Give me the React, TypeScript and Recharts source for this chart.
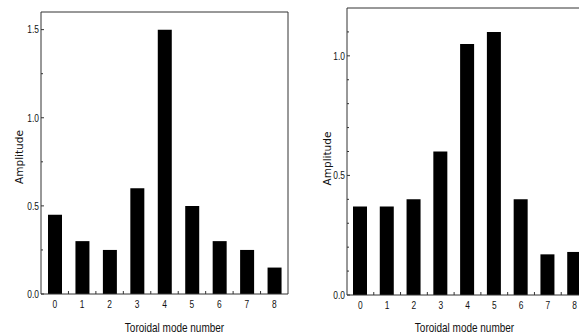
import { BarChart, Bar, XAxis, YAxis, ReferenceLine } from 'recharts'

// toroidal mode numbers and amplitudes
const modes = [0, 1, 2, 3, 4, 5, 6, 7, 8]
const leftAmplitudes = [0.45, 0.3, 0.25, 0.6, 1.5, 0.5, 0.3, 0.25, 0.15]
const rightAmplitudes = [0.37, 0.37, 0.4, 0.6, 1.05, 1.1, 0.4, 0.17, 0.18]

// x ticks: labels on the modes, small marks between them
const boundaries = [0.5, 1.5, 2.5, 3.5, 4.5, 5.5, 6.5, 7.5]
const leftYTicks = [0, 0.25, 0.5, 0.75, 1, 1.25, 1.5]
const rightYTicks = [0, 0.1, 0.2, 0.3, 0.4, 0.5, 0.6, 0.7, 0.8, 0.9, 1, 1.1]

const leftData = modes.map((m, i) => ({ mode: m, amp: leftAmplitudes[i] }))
const rightData = modes.map((m, i) => ({ mode: m, amp: rightAmplitudes[i] }))

const AXIS = '#333'
const SANS = '"Liberation Sans", Arial, sans-serif'

// no narrow font installed, so squeeze Liberation Sans horizontally
function NarrowText({
  x,
  y,
  size,
  anchor,
  dy,
  children,
}: {
  x: number
  y: number
  size: number
  anchor: 'start' | 'middle' | 'end'
  dy?: string
  children: any
}) {
  return (
    <g transform={`translate(${x},${y}) scale(0.8,1)`}>
      <text x={0} y={0} dy={dy} textAnchor={anchor} fontSize={size} fontFamily={SANS} fill="#111">
        {children}
      </text>
    </g>
  )
}

const XTick = (props: any) => {
  const { x, y, payload } = props
  const v = payload.value
  if (!Number.isInteger(v)) {
    return <line x1={x} x2={x} y1={y} y2={y - 3} stroke={AXIS} />
  }
  return (
    <NarrowText x={x} y={y + 14} size={10.5} anchor="middle">
      {v}
    </NarrowText>
  )
}

const YTick = (props: any) => {
  const { x, y, payload } = props
  const v = payload.value
  const major = Math.abs(v * 2 - Math.round(v * 2)) < 1e-6
  if (!major) {
    return <line x1={x} x2={x + 2} y1={y} y2={y} stroke={AXIS} />
  }
  return (
    <g>
      <line x1={x} x2={x + 3} y1={y} y2={y} stroke={AXIS} />
      <NarrowText x={x - 2} y={y} size={10.5} anchor="end" dy="0.36em">
        {v.toFixed(1)}
      </NarrowText>
    </g>
  )
}

const xLabel = (dx: number) => (props: any) => {
  const vb = props.viewBox
  return (
    <NarrowText x={vb.x + vb.width / 2 + dx} y={vb.y + vb.height - 3.5} size={12.5} anchor="middle">
      Toroidal mode number
    </NarrowText>
  )
}

const yLabel = (cx: number, dy: number) => (props: any) => {
  const vb = props.viewBox
  const cy = vb.y + vb.height / 2 + dy
  return (
    <text
      x={cx}
      y={cy}
      transform={`rotate(-90, ${cx}, ${cy})`}
      textAnchor="middle"
      dominantBaseline="central"
      fontSize={10.5}
      fontFamily='"DejaVu Sans", sans-serif'
      fill="#111"
    >
      Amplitude
    </text>
  )
}

function Panel({
  data,
  yMax,
  yTicks,
  width,
  margin,
  yAxisWidth,
  xAxisHeight,
  labelDx,
  ampX,
  ampDy,
}: {
  data: { mode: number; amp: number }[]
  yMax: number
  yTicks: number[]
  width: number
  margin: { top: number; right: number; bottom: number; left: number }
  yAxisWidth: number
  xAxisHeight: number
  labelDx: number
  ampX: number
  ampDy: number
}) {
  return (
    <BarChart width={width} height={335} data={data} margin={margin}>
      <XAxis
        type="number"
        dataKey="mode"
        domain={[-0.5, 8.5]}
        ticks={[...modes, ...boundaries]}
        interval={0}
        tickLine={false}
        tickSize={0}
        tickMargin={0}
        height={xAxisHeight}
        axisLine={{ stroke: AXIS }}
        tick={<XTick />}
        label={xLabel(labelDx)}
      />
      <YAxis
        type="number"
        domain={[0, yMax]}
        ticks={yTicks}
        interval={0}
        tickLine={false}
        tickSize={0}
        tickMargin={0}
        width={yAxisWidth}
        axisLine={{ stroke: AXIS }}
        tick={<YTick />}
        label={yLabel(ampX, ampDy)}
      />
      <ReferenceLine y={yMax} stroke={AXIS} />
      <ReferenceLine x={8.5} stroke={AXIS} />
      <Bar dataKey="amp" fill="#000" barSize={14} isAnimationActive={false} />
    </BarChart>
  )
}

export default function App() {
  return (
    <div
      style={{
        position: 'absolute',
        left: 0,
        top: 0,
        width: 579,
        height: 335,
        overflow: 'hidden',
        background: '#fff',
      }}
    >
      <div style={{ position: 'absolute', left: 0, top: 0 }}>
        <Panel
          data={leftData}
          yMax={1.6}
          yTicks={leftYTicks}
          width={290}
          margin={{ top: 12, right: 2, bottom: 0, left: 0 }}
          yAxisWidth={41}
          xAxisHeight={41}
          labelDx={10}
          ampX={19}
          ampDy={4}
        />
      </div>
      <div style={{ position: 'absolute', left: 290, top: 0 }}>
        <Panel
          data={rightData}
          yMax={1.2}
          yTicks={rightYTicks}
          width={310}
          margin={{ top: 8, right: 12, bottom: 0, left: 0 }}
          yAxisWidth={57}
          xAxisHeight={40}
          labelDx={-3}
          ampX={37}
          ampDy={7}
        />
      </div>
    </div>
  )
}
